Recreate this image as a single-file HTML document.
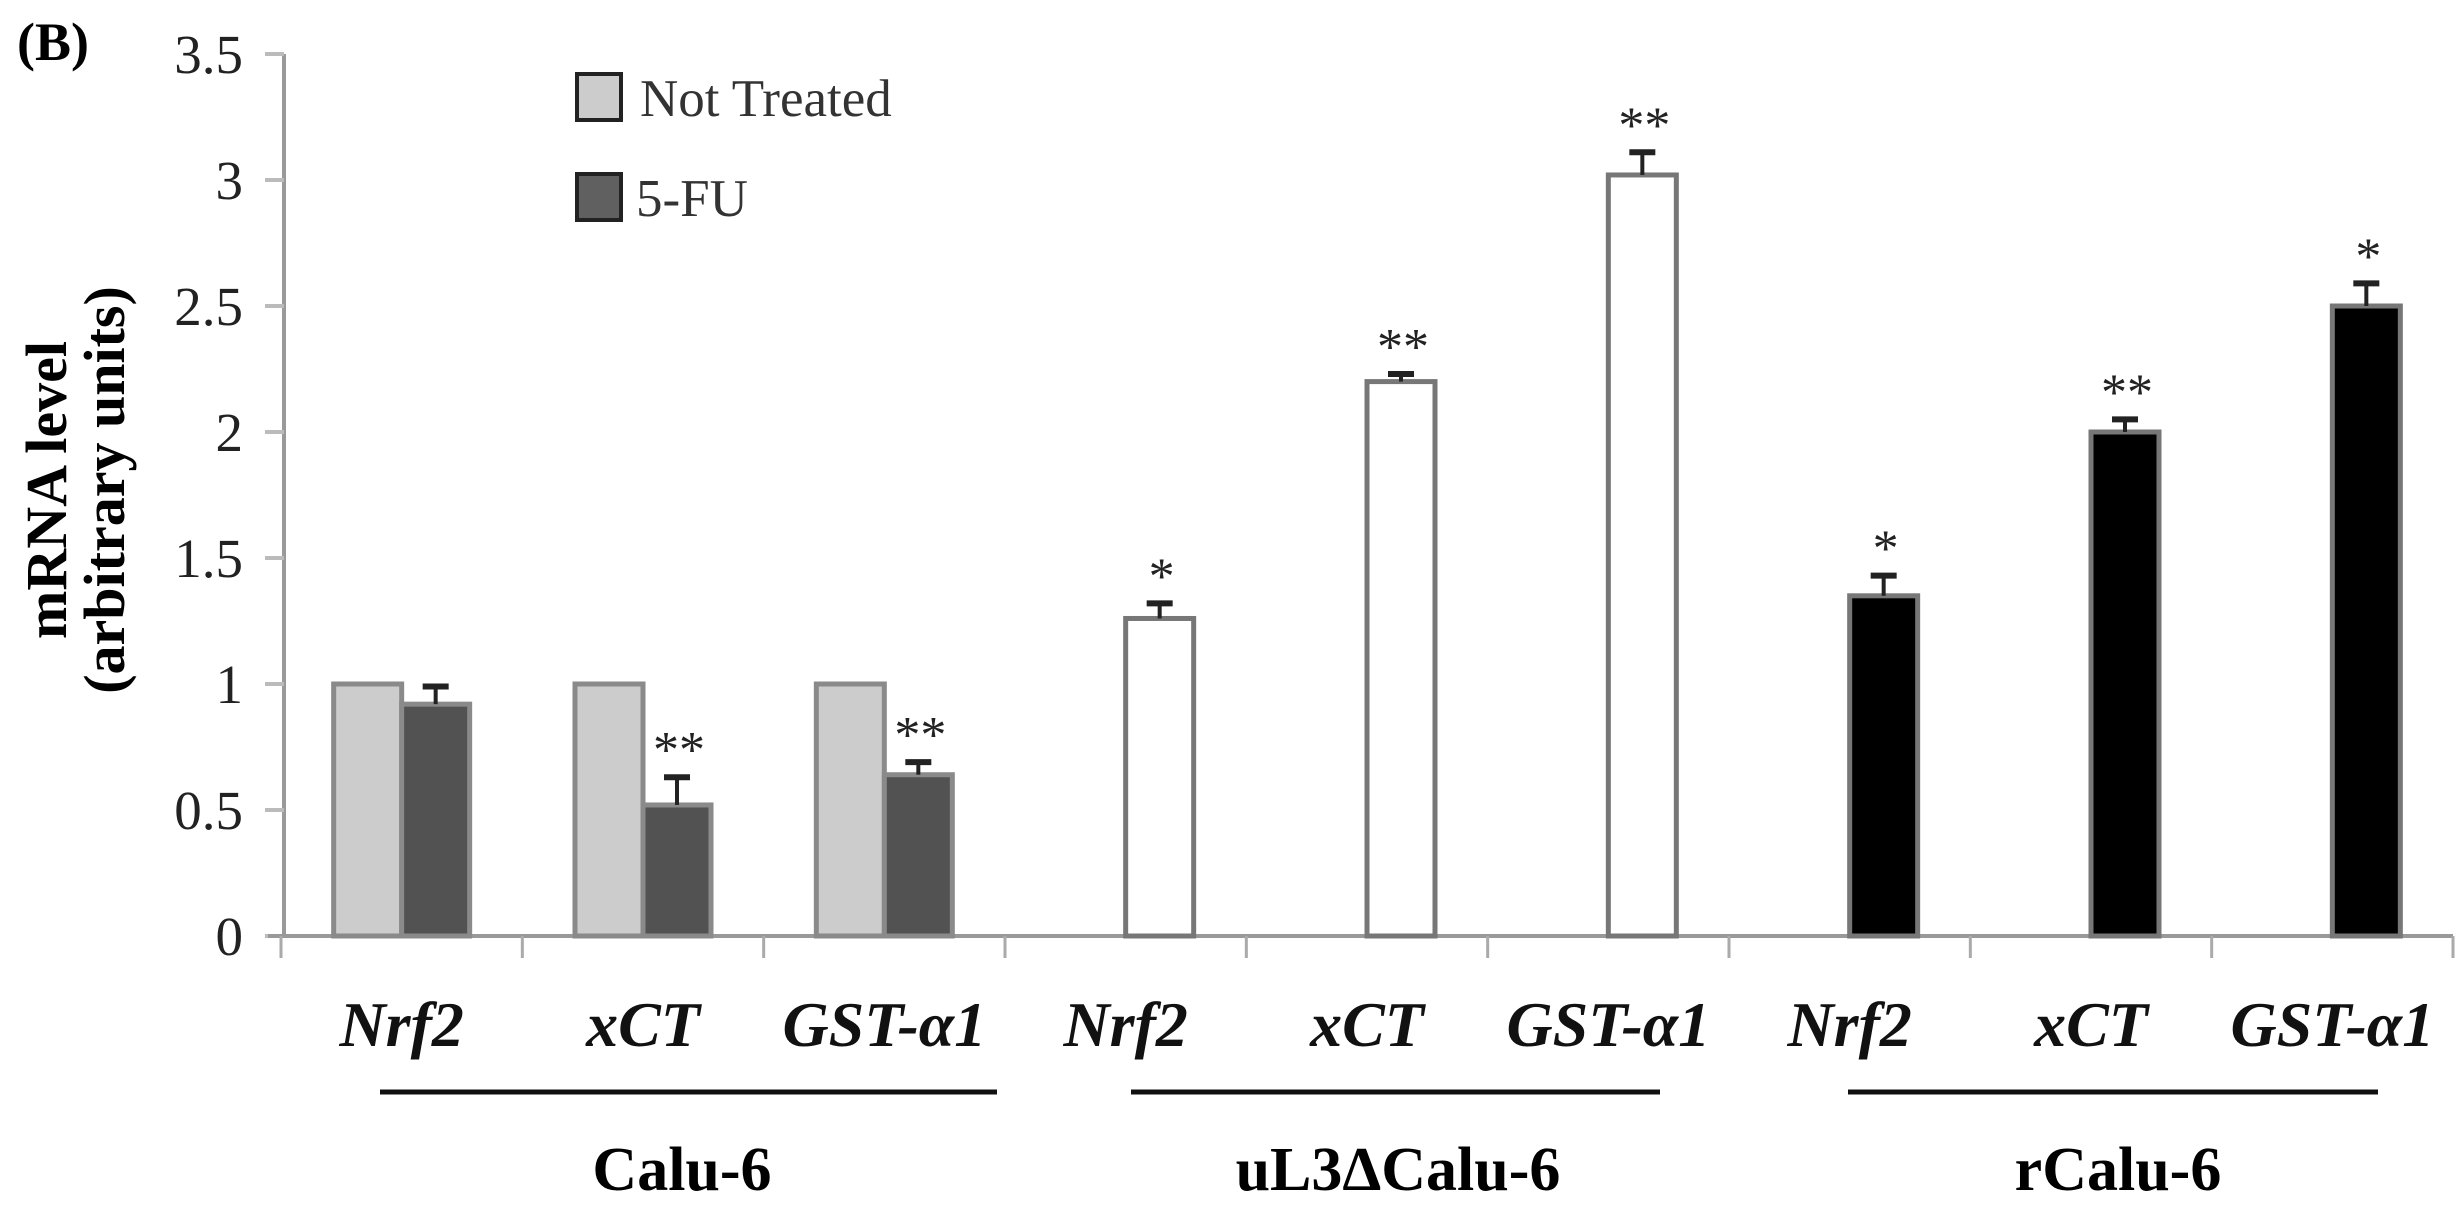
<!DOCTYPE html>
<html><head><meta charset="utf-8"><style>
html,body{margin:0;padding:0;background:#fff;}
svg{display:block;font-family:"Liberation Serif",serif;}
</style></head><body>
<svg id="chart" width="2455" height="1208" viewBox="0 0 2455 1208" xmlns="http://www.w3.org/2000/svg">
<text x="17" y="60" font-size="54" font-weight="bold">(B)</text>
<g font-weight="bold" font-size="58" text-anchor="middle">
<text transform="translate(66,490) rotate(-90)">mRNA level</text>
<text transform="translate(124,490) rotate(-90)">(arbitrary units)</text>
</g>
<g id="yaxis"></g>
<g id="xaxis"></g>
<g id="bars"></g>
<g>
<rect x="577" y="74" width="44" height="46" fill="#cccccc" stroke="#222" stroke-width="4"/>
<text x="640" y="116" font-size="53" fill="#333">Not Treated</text>
<rect x="577" y="174" width="44" height="46" fill="#606060" stroke="#222" stroke-width="4"/>
<text x="636" y="216" font-size="53" fill="#333">5-FU</text>
</g>
<g stroke="#111" stroke-width="5">
<line x1="380" y1="1092" x2="997" y2="1092"/>
<line x1="1131" y1="1092" x2="1660" y2="1092"/>
<line x1="1848" y1="1092" x2="2378" y2="1092"/>
</g>
<g font-size="62" font-weight="bold" text-anchor="middle">
<text x="682" y="1190">Calu-6</text>
<text x="1398" y="1190">uL3ΔCalu-6</text>
<text x="2118" y="1190">rCalu-6</text>
</g>
</svg>
<script>
const categories = ["Nrf2","xCT","GST-α1","Nrf2","xCT","GST-α1","Nrf2","xCT","GST-α1"];
const notTreated = [1, 1, 1, null, null, null, null, null, null];
const treated = [0.92, 0.52, 0.64, 1.26, 2.2, 3.02, 1.35, 2.0, 2.5];
const treatedErr = [0.07, 0.11, 0.05, 0.06, 0.03, 0.09, 0.08, 0.05, 0.09];
const stars = ["", "**", "**", "*", "**", "**", "*", "**", "*"];
const groupStyle = ["calu", "calu", "calu", "ul3", "ul3", "ul3", "r", "r", "r"];
const yTicks = [0, 0.5, 1, 1.5, 2, 2.5, 3, 3.5];
const yTickLabels = ["0", "0.5", "1", "1.5", "2", "2.5", "3", "3.5"];

const NS = "http://www.w3.org/2000/svg";
const X0 = 281, X1 = 2453, Y0 = 936, PER = 252;
const catW = (X1 - X0) / categories.length;
const barW = 68;
function y(v){ return Y0 - v * PER; }
function xc(i){ return X0 + catW * (i + 0.5); }
function mk(tag, attrs, parent){
  const e = document.createElementNS(NS, tag);
  for (const k in attrs) e.setAttribute(k, attrs[k]);
  parent.appendChild(e);
  return e;
}
const yax = document.getElementById('yaxis');
const xax = document.getElementById('xaxis');
const bars = document.getElementById('bars');

const yl = mk('line', {x1:284, y1:y(3.5), x2:284, y2:Y0, stroke:'#999', 'stroke-width':4}, yax);


yTicks.forEach((t, i) => {
  const tk = mk('line', {x1:265, y1:y(t), x2:284, y2:y(t), stroke:'#bbb', 'stroke-width':4}, yax);
  
  
  const tx = mk('text', {x:243, y:y(t) + 19, 'font-size':55, 'text-anchor':'end', fill:'#222'}, yax);
  tx.textContent = yTickLabels[i];
  
  
});

const xl = mk('line', {x1:268, y1:Y0, x2:X1, y2:Y0, stroke:'#999', 'stroke-width':4}, xax);


for (let i = 0; i <= categories.length; i++) {
  const xx = X0 + catW * i;
  const tk = mk('line', {x1:xx, y1:Y0, x2:xx, y2:958, stroke:'#aaa', 'stroke-width':3}, xax);
  
  
}
categories.forEach((c, i) => {
  const tx = mk('text', {x:xc(i), y:1046, 'font-size':64, 'font-style':'italic', 'font-weight':'bold', 'text-anchor':'middle', fill:'#111'}, xax);
  tx.textContent = c;
  
  
});

const styles = {
  calu: {fill:'#525252', stroke:'#8a8a8a'},
  ul3: {fill:'#ffffff', stroke:'#777777'},
  r: {fill:'#000000', stroke:'#777777'}
};
categories.forEach((c, i) => {
  const cx = xc(i);
  if (notTreated[i] !== null) {
    const b = mk('rect', {x:cx - barW, y:y(notTreated[i]), width:barW, height:Y0 - y(notTreated[i]), fill:'#cccccc', stroke:'#8a8a8a', 'stroke-width':5}, bars);
    
    
  }
  const st = styles[groupStyle[i]];
  const v = treated[i];
  const b2 = mk('rect', {x:cx, y:y(v), width:barW, height:Y0 - y(v), fill:st.fill, stroke:st.stroke, 'stroke-width':5}, bars);
  
  
  const ex = cx + barW / 2;
  const top = y(v + treatedErr[i]);
  const e1 = mk('line', {x1:ex, y1:y(v), x2:ex, y2:top, stroke:'#222', 'stroke-width':4}, bars);
  
  
  const e2 = mk('line', {x1:ex - 13, y1:top, x2:ex + 13, y2:top, stroke:'#222', 'stroke-width':6}, bars);
  
  
  if (stars[i]) {
    const s = mk('text', {x:ex + 2, y:top - 10, 'font-size':52, 'text-anchor':'middle', fill:'#222'}, bars);
    s.textContent = stars[i];
    
    
  }
});
</script>
</body></html>
